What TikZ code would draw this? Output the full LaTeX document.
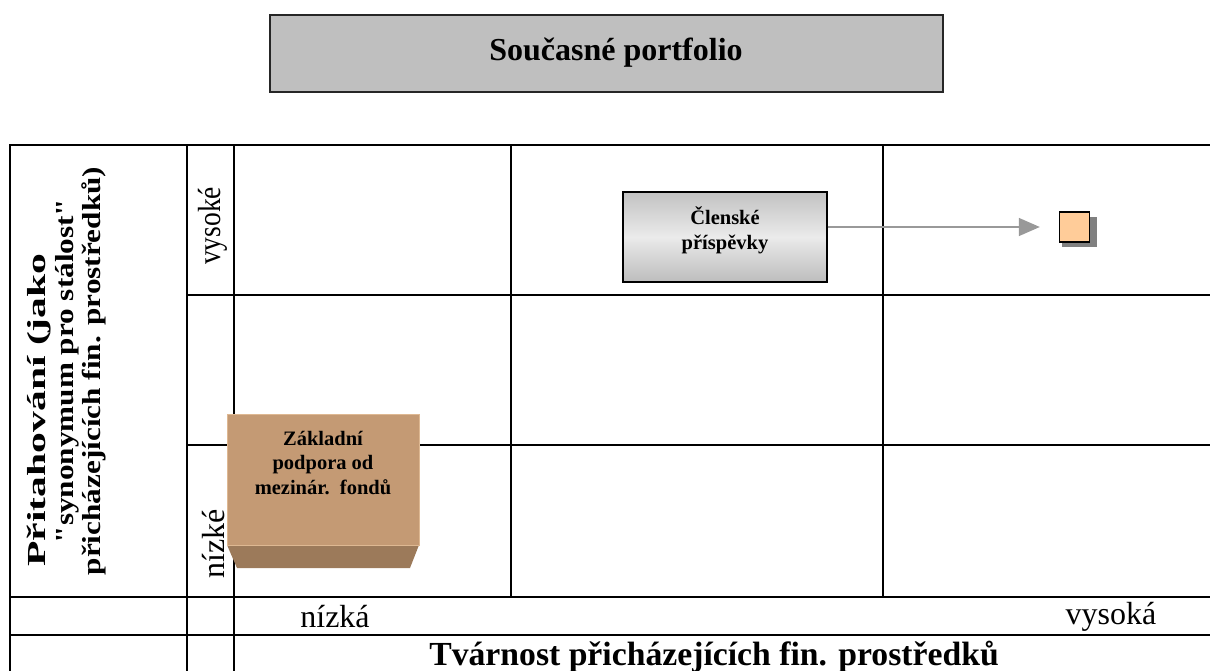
\documentclass[tikz,border=0pt]{standalone}
\usepackage{fontspec}
\setmainfont{Liberation Serif}
\usetikzlibrary{arrows.meta,calc}
\definecolor{peach}{RGB}{255,204,153}
\definecolor{tanfront}{RGB}{196,154,116}
\definecolor{tanbottom}{RGB}{156,122,90}
\definecolor{tanedge}{RGB}{222,184,146}
\begin{document}
\begin{tikzpicture}[x=1pt,y=-1pt,
  grid/.style={line width=2.2pt,line cap=rect},
  titlebox/.style={draw=black!85,line width=1.5pt,fill=black!25,minimum width=673pt,minimum height=77pt,inner sep=0pt},
  membox/.style={draw=black,line width=1.2pt,top color=black!24,bottom color=black!26,middle color=black!8,minimum width=204pt,minimum height=90pt,inner sep=0pt},
  flowarrow/.style={draw=black!40,line width=1.5pt,-{Triangle[length=21pt,width=18pt]}},
  marker/.style={draw=black,line width=1.4pt,fill=peach,minimum size=30pt,inner sep=0pt},
  axislabel/.style={font=\fontsize{32}{36}\selectfont,inner sep=0pt},
  boldlabel/.style={font=\bfseries\fontsize{32}{36}\selectfont,inner sep=0pt},
  ylabelline/.style={rotate=90,font=\bfseries\fontsize{26}{27}\selectfont,inner sep=0pt},
  boxtext/.style={font=\bfseries\fontsize{20.5}{24.5}\selectfont,align=center,inner sep=0pt}
]
\useasboundingbox (0,0) rectangle (1210,671);

% title
\node[titlebox] (title) at (606.5,53.5) {};
\node[boldlabel] (titletext) at (616,53) {Současné portfolio};

% table grid
\draw[grid] (10,145) -- (1214,145);
\draw[grid] (187,295) -- (1214,295);
\draw[grid] (187,445) -- (1214,445);
\draw[grid] (10,597) -- (1214,597);
\draw[grid] (10,635) -- (1214,635);
\draw[grid] (10,145) -- (10,675);
\draw[grid] (187,145) -- (187,675);
\draw[grid] (234,145) -- (234,675);
\draw[grid] (511,145) -- (511,597);
\draw[grid] (883,145) -- (883,597);

% vertical axis title, one node per line
\node[ylabelline] (ylabelA) at (39,410) {\scalebox{1.6}[1]{Přitahování (jako}};
\node[ylabelline] (ylabelB) at (67,371) {\scalebox{1.2}[1]{\textquotedbl synonymum pro stálost\textquotedbl}};
\node[ylabelline] (ylabelC) at (94,371) {\scalebox{1.2}[1]{přicházejících fin. prostředků)}};

% axis values and horizontal axis title
\node[axislabel,rotate=90] (yhigh) at (213,226) {\scalebox{0.86}[1]{vysoké}};
\node[axislabel] (xlow) at (335,617) {nízká};
\node[axislabel] (xhigh) at (1111,617) {vysoká};
\node[boldlabel,font=\bfseries\fontsize{33.7}{38}\selectfont] (xlabel) at (714,657) {Tvárnost přicházejících fin. prostředků};

% membership fees box, arrow and target marker
\node[membox] (fees) at (725,237) {};
\node[boxtext,anchor=north] (feestext) at (725,207) {Členské\\příspěvky};
\fill[black!50] (1062,217) rectangle (1097,247);
\node[marker] (target) at (1074.5,227) {};
\draw[flowarrow,shorten >=19pt] (fees.east |- target) -- (target.west);

% basic support box (3D block)
\fill[tanbottom] (227,545) -- (419,545) -- (410,568) -- (237,568) -- cycle;
\node[fill=tanfront,draw=tanedge,line width=1pt,minimum width=192pt,minimum height=131pt,inner sep=0pt] (support) at (323,479.5) {};
\node[boxtext,anchor=north] (supporttext) at (323,431) {Základní\\podpora od\\mezinár.\ \ fondů};
\node[axislabel,rotate=90] (ylow) at (214,544) {nízké};
\end{tikzpicture}
\end{document}
